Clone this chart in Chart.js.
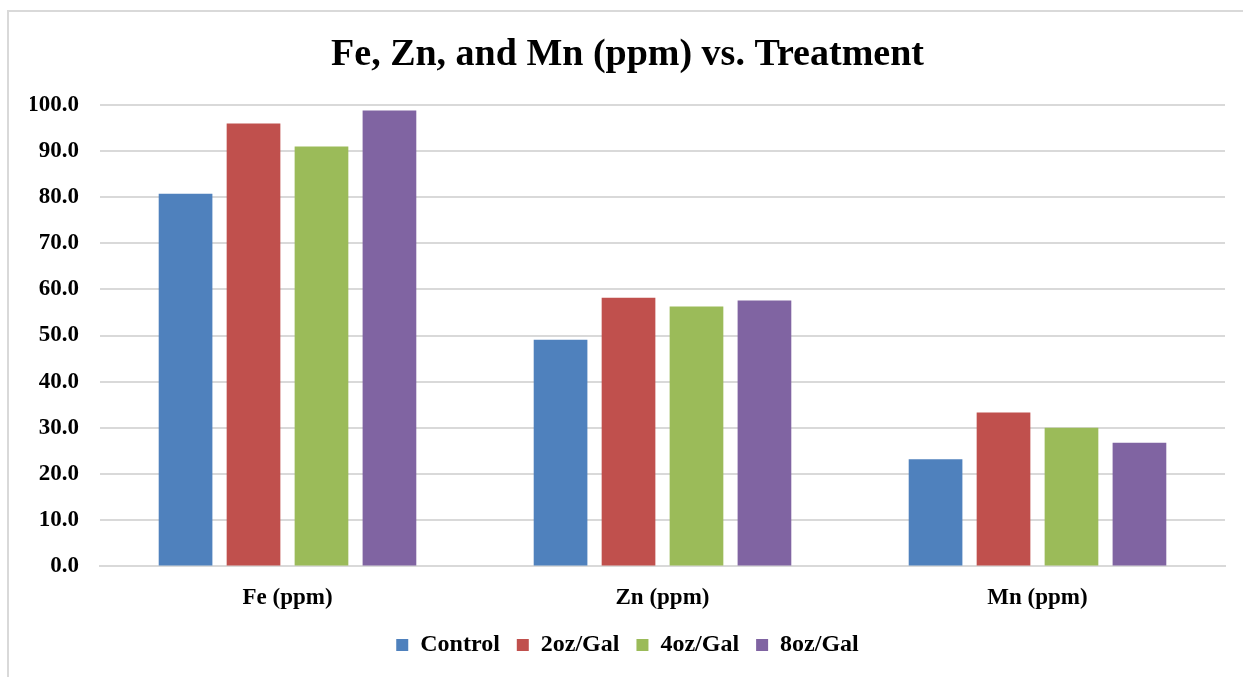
<!DOCTYPE html>
<html>
<head>
<meta charset="utf-8">
<script src="https://cdn.jsdelivr.net/npm/chart.js@4"></script>
<style>
  html, body { margin: 0; padding: 0; background: #fff; }
  #wrap { position: relative; width: 1243px; height: 677px; }
  #frame { position: absolute; left: 7px; top: 10px; width: 1300px; height: 700px;
           border-left: 2px solid #d9d9d9; border-top: 2px solid #d9d9d9; }
  canvas { position: absolute; left: 0; top: 0; }
</style>
</head>
<body>
<div id="wrap">
  <div id="frame"></div>
  <canvas id="chart" width="1243" height="677"></canvas>
</div>
<script>
const categories = ['Fe (ppm)', 'Zn (ppm)', 'Mn (ppm)'];
const control = [80.7, 49.1, 23.2];
const oz2 = [95.9, 58.2, 33.3];
const oz4 = [90.9, 56.3, 30.0];
const oz8 = [98.7, 57.6, 26.8];
const seriesNames = ['Control', '2oz/Gal', '4oz/Gal', '8oz/Gal'];
const seriesColors = ['#4f81bd', '#c0504d', '#9bbb59', '#8064a2']; // office palette

const serif = "'Liberation Serif', 'Times New Roman', serif";

document.addEventListener('DOMContentLoaded', () => {
    const ctx = document.getElementById('chart').getContext('2d');
    const values = [control, oz2, oz4, oz8];

    new Chart(ctx, {
        type: 'bar',
        data: {
            labels: categories,
            datasets: values.map((v, i) => ({
                label: seriesNames[i],
                data: v,
                backgroundColor: seriesColors[i],
                borderWidth: 0,
                categoryPercentage: 0.725,
                barPercentage: 0.79
            }))
        },
        options: {
            responsive: false,
            animation: false,
            layout: { padding: { left: 30, right: 18, top: 11, bottom: 10 } },
            plugins: {
                title: {
                    display: true,
                    text: 'Fe, Zn, and Mn (ppm) vs. Treatment',
                    color: '#000',
                    font: { family: serif, size: 38, weight: 'bold' },
                    padding: { top: 21, bottom: 27 }
                },
                legend: {
                    position: 'bottom',
                    labels: {
                        color: '#000',
                        boxWidth: 12,
                        boxHeight: 12,
                        padding: 17,
                        font: { family: serif, size: 24, weight: 'bold' }
                    }
                },
                tooltip: { enabled: false }
            },
            scales: {
                x: {
                    grid: { display: false, drawTicks: false },
                    border: { color: '#d9d9d9', width: 2 },
                    ticks: { color: '#000', padding: 18, font: { family: serif, size: 23, weight: 'bold' } },
                    // pull the legend a little closer to the category labels
                    afterFit: s => { s.height -= 14; }
                },
                y: {
                    min: 0, max: 100,
                    grid: { color: '#d9d9d9', lineWidth: 2, drawTicks: false },
                    border: { display: false },
                    ticks: {
                        stepSize: 10, color: '#000', padding: 21,
                        font: { family: serif, size: 23, weight: 'bold' },
                        callback: v => v.toFixed(1)
                    },
                    afterFit: s => { s.width = 70; }
                }
            }
        }
    });
});
</script>
</body>
</html>
